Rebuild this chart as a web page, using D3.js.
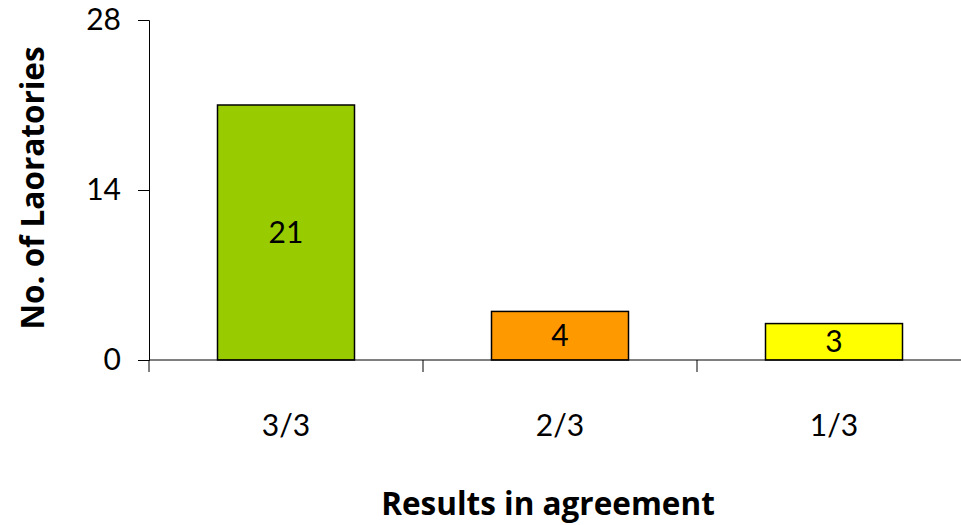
<!DOCTYPE html>
<html>
<head>
<meta charset="utf-8">
<script src="https://cdn.jsdelivr.net/npm/d3@7"></script>
<style>
  body { margin: 0; background: #fff; }
  text { font-family: Lato, "Open Sans", sans-serif; fill: #000; }
  .title { font-family: "Open Sans", Lato, sans-serif; }
</style>
</head>
<body>
<div id="chart"></div>
<script>
// chart data
var categories = ["3/3", "2/3", "1/3"];
var values = [21, 4, 3];
var colors = ["#99cc00", "#ff9900", "#ffff00"];
var yTicks = [0, 14, 28];

var width = 961, height = 525;
var margin = { left: 149, top: 20, right: -10, bottom: 165 };

var svg = d3.select("#chart")
  .append("svg")
  .attr("width", width)
  .attr("height", height);

var x = d3.scaleBand()
  .domain(categories)
  .range([margin.left, width - margin.right])
  .paddingInner(0.5)
  .paddingOuter(0.25);

var y = d3.scaleLinear()
  .domain([0, 28])
  .range([height - margin.bottom, margin.top]);

// bars
svg.selectAll("rect.bar")
  .data(values)
  .enter()
  .append("rect")
    .attr("class", "bar")
    .attr("x", function(d, i) { return x(categories[i]); })
    .attr("y", function(d) { return y(d); })
    .attr("width", x.bandwidth())
    .attr("height", function(d) { return y(0) - y(d); })
    .style("fill", function(d, i) { return colors[i]; })
    .style("stroke", "#000")
    .style("stroke-width", 1.5);

// y axis
var yAxis = svg.append("g")
  .attr("transform", "translate(" + margin.left + ",0)")
  .call(d3.axisLeft(y).tickValues(yTicks).tickSize(11).tickPadding(17));
yAxis.selectAll("text").style("font-size", "30px");

// x axis with ticks between categories
var xAxis = svg.append("g")
  .attr("transform", "translate(0," + y(0) + ")");
xAxis.append("line")
  .attr("x1", margin.left).attr("x2", width - margin.right)
  .attr("y1", 0).attr("y2", 0)
  .style("stroke", "#000");
var step = x.step();
xAxis.selectAll("line.tick")
  .data(categories)
  .enter()
  .append("line")
    .attr("x1", function(d) { return x(d) + x.bandwidth() / 2 - step / 2; })
    .attr("x2", function(d) { return x(d) + x.bandwidth() / 2 - step / 2; })
    .attr("y1", 0).attr("y2", 12)
    .style("stroke", "#000");
xAxis.selectAll("text")
  .data(categories)
  .enter()
  .append("text")
    .attr("x", function(d) { return x(d) + x.bandwidth() / 2; })
    .attr("y", 76)
    .attr("text-anchor", "middle")
    .style("font-size", "30px")
    .text(function(d) { return d; });
svg.selectAll(".domain").style("stroke", "#000");
svg.selectAll(".tick line").style("stroke", "#000");

// value labels
svg.selectAll("text.val")
  .data(values)
  .enter()
  .append("text")
    .attr("class", "val")
    .attr("x", function(d, i) { return x(categories[i]) + x.bandwidth() / 2; })
    .attr("y", function(d) { return (y(d) + y(0)) / 2; })
    .attr("dy", "0.35em")
    .attr("text-anchor", "middle")
    .style("font-size", "30px")
    .text(function(d) { return d; });

// axis titles
svg.append("text")
  .attr("class", "title")
  .attr("x", 548).attr("y", 515)
  .attr("text-anchor", "middle")
  .style("font-size", "31.5px")
  .style("font-weight", "bold")
  .text("Results in agreement");

svg.append("text")
  .attr("class", "title")
  .attr("transform", "translate(44,188) rotate(-90)")
  .attr("text-anchor", "middle")
  .style("font-size", "31.5px")
  .style("font-weight", "bold")
  .text("No. of Laoratories");
</script>
</body>
</html>
